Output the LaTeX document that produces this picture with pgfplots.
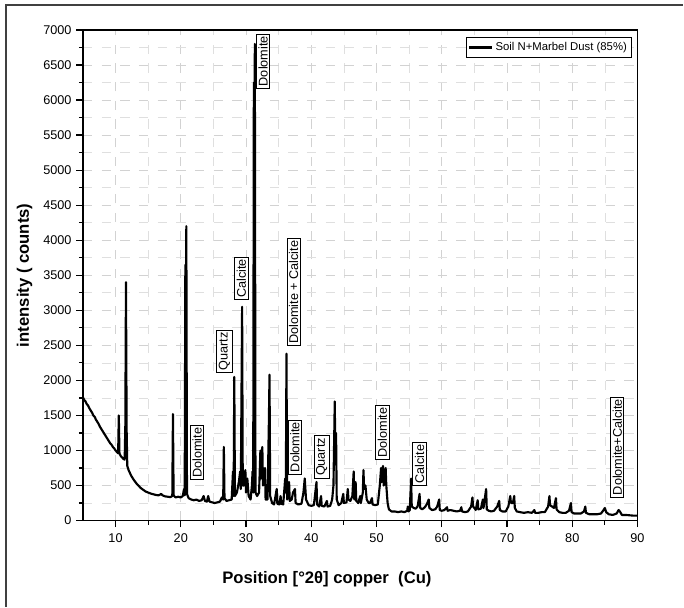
\documentclass[border=0pt]{standalone}
\usepackage{fontspec}
\setmainfont{Liberation Sans}
\usepackage{pgfplots}
\pgfplotsset{compat=1.18}
\begin{document}
\begin{tikzpicture}
\begin{axis}[
  scale only axis,
  width=416pt, height=368pt,
  xmin=5, xmax=90, ymin=0, ymax=7000,
  xtick={10,20,...,90}, ytick={0,500,...,7000},
  minor x tick num=1, minor y tick num=1,
  grid=both,
  major grid style={gray!35, dash pattern=on 7pt off 7pt, line width=0.6pt},
  minor grid style={gray!25, dash pattern=on 7pt off 7pt, line width=0.5pt},
  axis line style={line width=1pt},
  tick align=outside, xtick pos=left, ytick pos=left,
  major tick length=5pt, minor tick length=3pt,
  tick style={black, line width=0.9pt},
  /pgf/number format/assume math mode=true,
  /pgf/number format/1000 sep={},
  tick label style={font=\fontsize{9.5}{11}\selectfont},
  xticklabel style={yshift=-1pt},
  xlabel={Position [\textdegree 2θ] copper\ \ (Cu)},
  ylabel={intensity ( counts)},
  xlabel style={font=\bfseries\fontsize{12.5}{14}\selectfont, at={(axis description cs:0.44,-0.12)}, anchor=center},
  ylabel style={font=\bfseries\fontsize{12.5}{14}\selectfont, at={(axis description cs:-0.105,0.5)}, anchor=center},
  legend style={at={(axis description cs:0.99,0.985)}, anchor=north east, draw=black, line width=0.6pt, font=\fontsize{8.5}{9}\selectfont, inner sep=1.5pt, row sep=-1pt},
  legend image post style={line width=1.6pt},
  legend cell align=left,
  clip=false,
]
\addplot[black, line width=1.6pt, line join=round] coordinates {
(5.0,1760)(5.2,1720)(5.4,1700)(5.6,1660)(5.8,1640)(6.0,1600)(6.2,1570)(6.4,1540)(6.6,1500)(6.8,1480)(7.0,1440)(7.2,1410)(7.4,1380)(7.6,1340)(7.8,1310)(8.0,1280)(8.2,1250)(8.4,1220)(8.6,1190)(8.8,1160)(9.0,1130)(9.2,1100)(9.4,1080)(9.6,1050)(9.8,1030)(10.0,1000)(10.2,980)(10.4,960)(10.5,1500)(10.6,960)(10.8,920)(11.0,900)(11.2,880)(11.4,870)(11.5,1350)(11.6,3400)(11.7,1300)(11.8,780)(12.0,720)(12.2,680)(12.4,640)(12.6,610)(12.8,580)(13.0,555)(13.2,530)(13.4,510)(13.6,490)(13.8,470)(14.0,455)(14.3,435)(14.6,415)(15.0,400)(15.4,385)(15.8,375)(16.2,365)(16.6,360)(17.0,380)(17.2,360)(17.6,345)(18.0,340)(18.4,335)(18.7,350)(18.8,1520)(18.9,360)(19.2,330)(19.6,340)(20.0,330)(20.3,350)(20.5,450)(20.6,360)(20.7,3650)(20.75,1500)(20.85,4200)(20.95,380)(21.2,320)(21.6,300)(22.0,290)(22.4,300)(22.8,280)(23.2,290)(23.5,350)(23.7,280)
(24.0,270)(24.2,350)(24.4,270)(24.8,260)(25.2,250)(25.6,260)(26.0,270)(26.3,330)(26.5,300)(26.6,1050)(26.7,320)(27.0,280)(27.4,290)(27.8,300)(28.0,700)(28.1,350)(28.2,2050)(28.3,350)(28.6,400)(28.9,550)(29.1,700)(29.2,450)(29.4,3050)(29.5,500)(29.7,500)(29.9,720)(30.0,400)(30.2,600)(30.4,350)(30.7,300)(30.9,500)(31.0,700)(31.1,400)(31.2,6250)(31.25,2000)(31.35,6800)(31.45,400)(31.7,350)(32.0,400)(32.2,1000)(32.3,600)(32.5,1050)(32.6,500)(32.9,750)(33.0,300)(33.3,300)(33.5,1400)(33.6,2080)(33.7,350)(34.0,250)(34.3,230)(34.7,450)(34.8,240)(35.1,230)(35.3,350)(35.4,240)(35.7,230)(36.0,600)(36.1,400)(36.2,2380)(36.3,300)(36.6,550)(36.7,280)(37.0,300)(37.2,400)(37.5,450)(37.6,250)(38.0,230)(38.5,240)(38.8,400)(39.0,600)(39.2,300)(39.6,220)(40.0,210)(40.4,220)(40.8,550)(40.9,230)(41.2,200)(41.5,350)(41.6,210)(42.0,200)(42.4,280)(42.5,200)(42.9,210)(43.2,300)(43.4,500)(43.6,1700)(43.7,800)(43.8,1250)(43.9,300)(44.2,220)(44.6,250)(44.9,380)(45.0,250)(45.4,260)(45.6,450)(45.7,300)(46.0,280)(46.3,350)(46.5,700)(46.6,300)(46.8,550)(46.9,280)(47.2,250)(47.5,350)(47.6,250)(47.9,400)(48.0,720)(48.1,450)(48.3,500)(48.5,300)(48.8,250)(49.0,250)(49.3,320)(49.4,230)(49.8,220)(50.2,230)(50.5,500)(50.7,750)(50.8,550)(51.0,780)(51.1,500)(51.4,750)(51.5,500)(51.7,250)(51.9,160)(52.3,130)(52.8,130)(53.3,120)(53.8,130)(54.3,120)(54.7,140)(54.8,200)(54.9,130)(55.1,150)(55.3,600)(55.4,200)(55.7,180)(56.0,170)(56.3,200)(56.6,380)(56.7,180)(57.0,160)(57.4,190)(57.7,230)(58.0,300)(58.1,180)(58.5,150)(59.0,160)(59.3,200)(59.6,300)(59.7,150)(60.0,140)(60.4,150)(60.8,190)(60.9,140)(61.3,150)(61.8,140)(62.3,130)(62.8,140)(63.0,190)(63.1,130)(63.6,120)(64.0,130)(64.5,200)(64.7,330)(64.8,200)(65.0,180)(65.2,150)(65.5,290)(65.6,160)(66.0,170)(66.3,300)(66.4,180)(66.8,450)(66.9,160)(67.2,140)(67.6,130)(68.0,140)(68.5,200)(68.8,280)(68.9,150)(69.3,130)(69.8,130)(70.2,200)(70.5,350)(70.6,250)(70.9,250)(71.1,350)(71.2,180)(71.5,130)(72.0,120)(72.6,110)(73.2,120)(73.8,110)(74.2,150)(74.3,110)(74.8,110)(75.3,120)(75.8,120)(76.3,200)(76.5,350)(76.6,220)(76.9,200)(77.2,180)(77.5,320)(77.6,160)(78.0,120)(78.5,110)(79.0,110)(79.5,140)(79.8,250)(79.9,120)(80.3,100)(80.8,100)(81.3,100)(81.8,130)(82.0,200)(82.1,110)(82.6,90)(83.2,90)(83.8,90)(84.4,100)(84.8,150)(85.0,180)(85.2,120)(85.6,90)(86.2,80)(86.8,100)(87.1,150)(87.3,130)(87.6,80)(88.2,80)(88.8,75)(89.4,70)(90.0,70)
};
\addlegendentry{Soil N+Marbel Dust (85\%)}
\tikzset{lab/.style={draw=black, line width=0.7pt, rotate=90, anchor=west, inner sep=1.5pt, font=\fontsize{9.5}{11}\selectfont, fill=white}}
\node[lab] at (axis cs:22.5,574) {Dolomite};
\node[lab] at (axis cs:26.7,2105) {Quartz};
\node[lab] at (axis cs:29.3,3144) {Calcite};
\node[lab] at (axis cs:32.6,6163) {Dolomite};
\node[lab] at (axis cs:37.3,2488) {Dolomite + Calcite};
\node[lab] at (axis cs:37.5,656) {Dolomite};
\node[lab] at (axis cs:41.6,601) {Quartz};
\node[lab] at (axis cs:50.9,864) {Dolomite};
\node[lab] at (axis cs:56.6,492) {Calcite};
\node[lab] at (axis cs:86.9,328) {Dolomite+Calcite};
\draw[black!75, line width=0.8pt] (axis description cs:-0.1387,-0.1752) -- (axis description cs:-0.1387,1.0509) -- (axis description cs:1.0829,1.0509);
\path (axis description cs:-0.1495,-0.1752) rectangle (axis description cs:1.0829,1.0611);
\end{axis}
\end{tikzpicture}
\end{document}
